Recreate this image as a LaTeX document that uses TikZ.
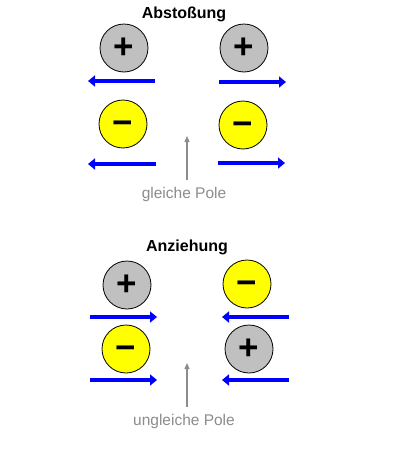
\documentclass[tikz,border=0pt]{standalone}
\usepackage{fontspec}
\setmainfont{Liberation Sans}
\usetikzlibrary{arrows.meta}
\definecolor{ballgray}{RGB}{192,192,192}
\definecolor{ballyellow}{RGB}{255,255,0}
\definecolor{forceblue}{RGB}{0,0,255}
\definecolor{notegray}{RGB}{140,140,140}
\begin{document}
\begin{tikzpicture}[x=1pt,y=-1pt,
  ball/.style={circle,draw=black,line width=0.8pt,minimum size=48pt,inner sep=0pt,
    font=\fontsize{35}{35}\selectfont\bfseries,text height=20pt,text depth=0pt},
  posball/.style={ball,fill=ballgray},
  negball/.style={ball,fill=ballyellow},
  force/.style={draw=forceblue,line width=4pt,-{Triangle[length=7pt,width=11pt]}},
  hint/.style={draw=notegray,line width=1.3pt,-{Triangle[length=6pt,width=5pt]}},
  titletext/.style={font=\fontsize{16}{16}\selectfont\bfseries},
  notetext/.style={text=notegray,font=\fontsize{15.5}{16}\selectfont}]
\useasboundingbox[fill=white] (0,0) rectangle (400,450);
% Abstossung
\node[titletext] (t1) at (184,14) {Abstoßung};
\node[posball] (a1) at (124,48) {+};
\node[posball] (a2) at (244,48) {+};
\node[negball] (a3) at (123,124) {−};
\node[negball] (a4) at (243,125) {−};
\draw[force] (155,81) -- (88,81);
\draw[force] (219,82) -- (286,82);
\draw[force] (156,164) -- (88,164);
\draw[force] (218,163) -- (285,163);
\node[notetext] (n1) at (184,194) {gleiche Pole};
\coordinate (h1) at (187,136);
\draw[hint] (n1.north -| h1) ++(0,-3) -- (h1);
% Anziehung
\node[titletext] (t2) at (187,247) {Anziehung};
\node[posball] (b1) at (127,285) {+};
\node[negball] (b2) at (247,284) {−};
\node[negball] (b3) at (126,349) {−};
\node[posball] (b4) at (249,349) {+};
\draw[force] (90,317) -- (157,317);
\draw[force] (289,317) -- (222,317);
\draw[force] (90,380) -- (157,380);
\draw[force] (289,380) -- (222,380);
\node[notetext] (n2) at (184,421) {ungleiche Pole};
\coordinate (h2) at (187,363);
\draw[hint] (n2.north -| h2) ++(0,-3) -- (h2);
\end{tikzpicture}
\end{document}
